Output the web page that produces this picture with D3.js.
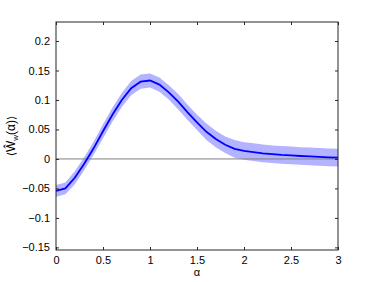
<!DOCTYPE html>
<html lang="en">
<head>
  <meta charset="utf-8">
  <title>W hat vs alpha</title>
  <script src="https://cdn.jsdelivr.net/npm/d3@7"></script>
  <style>
    body { margin: 0; background: #fff; }
    text { font-family: "Liberation Sans", Arial, sans-serif; }
  </style>
</head>
<body>
<script>
// data
const alpha = [0, 0.1, 0.2, 0.3, 0.4, 0.5, 0.6, 0.7, 0.8, 0.9, 1.0,
  1.1, 1.2, 1.3, 1.4, 1.5, 1.6, 1.7, 1.8, 1.9, 2.0,
  2.1, 2.2, 2.3, 2.4, 2.5, 2.6, 2.7, 2.8, 2.9, 3.0];
const meanW = [-0.054, -0.050, -0.032, -0.008, 0.018, 0.047, 0.075, 0.100, 0.120, 0.131, 0.133,
  0.126, 0.113, 0.097, 0.079, 0.062, 0.046, 0.034, 0.024, 0.017, 0.0135,
  0.0115, 0.0095, 0.008, 0.0068, 0.006, 0.005, 0.0042, 0.0035, 0.0028, 0.0022];
const errW = [0.010, 0.010, 0.011, 0.011, 0.011, 0.012, 0.012, 0.012, 0.012, 0.012, 0.012,
  0.012, 0.012, 0.013, 0.013, 0.013, 0.014, 0.014, 0.014, 0.015, 0.015,
  0.015, 0.015, 0.015, 0.015, 0.015, 0.015, 0.015, 0.015, 0.015, 0.015];
const xTicks = [0, 0.5, 1, 1.5, 2, 2.5, 3];
const yTicks = [-0.15, -0.1, -0.05, 0, 0.05, 0.1, 0.15, 0.2];

const w = 374, h = 282;
const pL = 56, pR = 338, pT = 22, pB = 250;

const svg = d3.select("body").append("svg")
  .attr("width", w).attr("height", h);

const x = d3.scaleLinear().domain([0, 3]).range([pL, pR]);
const y = d3.scaleLinear().domain([-0.1544, 0.2322]).range([pB, pT]);

const pts = alpha.map((a, i) => ({ a: a, m: meanW[i], e: errW[i] }));

// shaded band
svg.append("path")
  .datum(pts)
  .attr("fill", "#b3b3ff")
  .attr("d", d3.area()
    .x(d => x(d.a))
    .y0(d => y(d.m - d.e))
    .y1(d => y(d.m + d.e)));

// zero line
svg.append("line")
  .attr("x1", x(0)).attr("x2", x(3))
  .attr("y1", y(0)).attr("y2", y(0))
  .attr("stroke", "#808080").attr("stroke-width", 1);

// mean curve
svg.append("path")
  .datum(pts)
  .attr("fill", "none")
  .attr("stroke", "#0000ff")
  .attr("stroke-width", 1.8)
  .attr("d", d3.line().x(d => x(d.a)).y(d => y(d.m)));

// axes (ticks inside, box on)
const fmt = v => (v < 0 ? "\u2212" : "") + Math.abs(v);
const tk = 3;

svg.append("g")
  .attr("transform", `translate(0,${pB})`)
  .call(d3.axisBottom(x).tickValues(xTicks).tickSizeInner(-tk).tickSizeOuter(0).tickPadding(6).tickFormat(fmt));
svg.append("g")
  .attr("transform", `translate(0,${pT})`)
  .call(d3.axisTop(x).tickValues(xTicks).tickSizeInner(-tk).tickSizeOuter(0).tickFormat(""));
svg.append("g")
  .attr("transform", `translate(${pL},0)`)
  .call(d3.axisLeft(y).tickValues(yTicks).tickSizeInner(-tk).tickSizeOuter(0).tickPadding(6).tickFormat(fmt));
svg.append("g")
  .attr("transform", `translate(${pR},0)`)
  .call(d3.axisRight(y).tickValues(yTicks).tickSizeInner(-tk).tickSizeOuter(0).tickFormat(""));

svg.selectAll(".domain").remove();
svg.selectAll(".tick line").attr("stroke", "#262626");
svg.selectAll(".tick text").attr("font-size", 11).attr("fill", "#000")
  .attr("font-family", "Liberation Sans, Arial, sans-serif");

svg.append("rect")
  .attr("x", pL).attr("y", pT)
  .attr("width", pR - pL).attr("height", pB - pT)
  .attr("fill", "none").attr("stroke", "#262626").attr("stroke-width", 1);

// x label
svg.append("text")
  .attr("x", x(1.5)).attr("y", 276)
  .attr("text-anchor", "middle").attr("font-size", 11)
  .text("\u03b1");

// y label
const yl = svg.append("text")
  .attr("transform", "translate(15,136) rotate(-90)")
  .attr("text-anchor", "middle").attr("font-size", 12);
yl.append("tspan").attr("font-family", "DejaVu Sans").attr("font-size", 11).text("\u27e8");
yl.append("tspan").text("W\u0302");
yl.append("tspan").attr("font-size", 8).attr("dy", 3).text("w");
yl.append("tspan").attr("dy", -3).text("(\u03b1)");
yl.append("tspan").attr("font-family", "DejaVu Sans").attr("font-size", 11).text("\u27e9");
</script>
</body>
</html>
